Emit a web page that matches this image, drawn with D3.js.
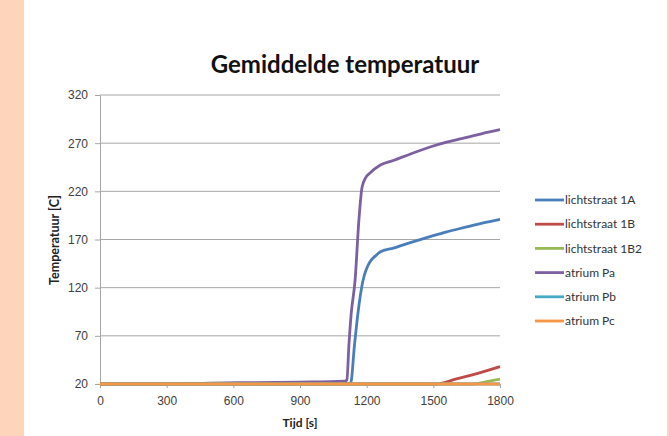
<!DOCTYPE html>
<html>
<head>
<meta charset="utf-8">
<script src="https://cdn.jsdelivr.net/npm/d3@7"></script>
<style>
  html, body { margin: 0; padding: 0; background: #fff; }
  svg { display: block; font-family: Lato, "Open Sans", "Liberation Sans", sans-serif; }
</style>
</head>
<body>
<div id="chart"></div>
<script>
// --- data ---
const seriesNames = ['lichtstraat 1A', 'lichtstraat 1B', 'lichtstraat 1B2', 'atrium Pa', 'atrium Pb', 'atrium Pc'];
const seriesColors = ['#4a7ebb', '#be4b48', '#98b954', '#7d60a0', '#46aac5', '#f79646'];

// [time (s), temperature (C)]
const lichtstraat1A = [[0, 20], [600, 20], [1100, 20.5], [1128, 21], [1145, 60], [1161, 94], [1184, 128], [1200, 140], [1215, 147], [1240, 153], [1260, 157], [1320, 161], [1400, 167], [1485, 173], [1560, 178], [1650, 183], [1720, 187], [1800, 191]];
const lichtstraat1B = [[0, 20], [1516, 20], [1600, 25], [1700, 31], [1800, 38]];
const lichtstraat1B2 = [[0, 20], [1680, 20], [1740, 22.5], [1800, 25]];
const atriumPa = [[0, 20], [250, 20], [500, 21], [700, 21.5], [900, 22], [1100, 23], [1111, 24], [1120, 60], [1130, 92], [1148, 128], [1165, 190], [1179, 224], [1195, 234], [1215, 239], [1260, 247], [1320, 252], [1400, 259], [1485, 266], [1560, 271], [1650, 276], [1720, 280], [1800, 284]];
const atriumPb = [[0, 20], [900, 20], [1800, 20]];
const atriumPc = [[0, 20], [900, 20], [1800, 20]];

const seriesData = [lichtstraat1A, lichtstraat1B, lichtstraat1B2, atriumPa, atriumPb, atriumPc];
const xTicks = [0, 300, 600, 900, 1200, 1500, 1800];
const yTicks = [20, 70, 120, 170, 220, 270, 320];

// draw order: later ones on top (orange sits on top along the base)
const drawOrder = [3, 0, 1, 2, 4, 5];

const W = 669, H = 436;
const svg = d3.select('#chart').append('svg').attr('width', W).attr('height', H);

// peach side bands
svg.append('rect').attr('x', 0).attr('y', 0).attr('width', 24).attr('height', H).attr('fill', '#fdd5bb');
svg.append('rect').attr('x', 667).attr('y', 0).attr('width', 2).attr('height', H).attr('fill', '#fdd5bb');

const x = d3.scaleLinear().domain([0, 1800]).range([100, 500]);
const y = d3.scaleLinear().domain([20, 320]).range([384, 95]);

// grid
svg.append('g').selectAll('line').data(yTicks.slice(1)).join('line')
    .attr('x1', 100).attr('x2', 500)
    .attr('y1', d => y(d)).attr('y2', d => y(d))
    .attr('stroke', '#a6a6a6').attr('stroke-width', 1);

// axes
const yAxis = svg.append('g').attr('transform', 'translate(100,0)')
    .call(d3.axisLeft(y).tickValues(yTicks).tickFormat(d3.format('d')).tickSize(5).tickPadding(7));
const xAxis = svg.append('g').attr('transform', 'translate(0,384)')
    .call(d3.axisBottom(x).tickValues(xTicks).tickFormat(d3.format('d')).tickSize(4).tickPadding(8));
[yAxis, xAxis].forEach(ax => {
    ax.select('.domain').attr('stroke', '#a6a6a6');
    ax.selectAll('.tick line').attr('stroke', '#a6a6a6');
    ax.selectAll('.tick text').attr('fill', '#404040').style('font-size', '12px');
});

// lines
const line = d3.line().x(d => x(d[0])).y(d => y(d[1])).curve(d3.curveMonotoneX);
drawOrder.forEach(i => {
    svg.append('path').datum(seriesData[i])
        .attr('d', line)
        .attr('fill', 'none')
        .attr('stroke', seriesColors[i])
        .attr('stroke-width', 2.8)
        .attr('stroke-linejoin', 'round');
});

// title
svg.append('text').attr('x', 345).attr('y', 73).attr('text-anchor', 'middle')
    .style('font-size', '24px').style('font-weight', 'bold').attr('fill', '#111')
    .text('Gemiddelde temperatuur');

// axis titles
svg.append('text').attr('x', 300).attr('y', 427).attr('text-anchor', 'middle')
    .style('font-size', '12px').style('font-weight', 'bold').attr('fill', '#222')
    .text('Tijd [s]');
svg.append('text').attr('transform', 'translate(59,240) rotate(-90)').attr('text-anchor', 'middle')
    .style('font-size', '12.5px').style('font-weight', 'bold').attr('fill', '#222')
    .text('Temperatuur [C]');

// legend
const legend = svg.append('g').attr('transform', 'translate(535,200)');
seriesNames.forEach((name, i) => {
    const row = legend.append('g').attr('transform', `translate(0, ${i * 24.2})`);
    row.append('line').attr('x1', 0).attr('x2', 29).attr('y1', 0).attr('y2', 0)
        .attr('stroke', seriesColors[i]).attr('stroke-width', 2.8);
    row.append('text').attr('x', 30).attr('y', 4.2).style('font-size', '12px').attr('fill', '#333').text(name);
});
</script>
</body>
</html>
